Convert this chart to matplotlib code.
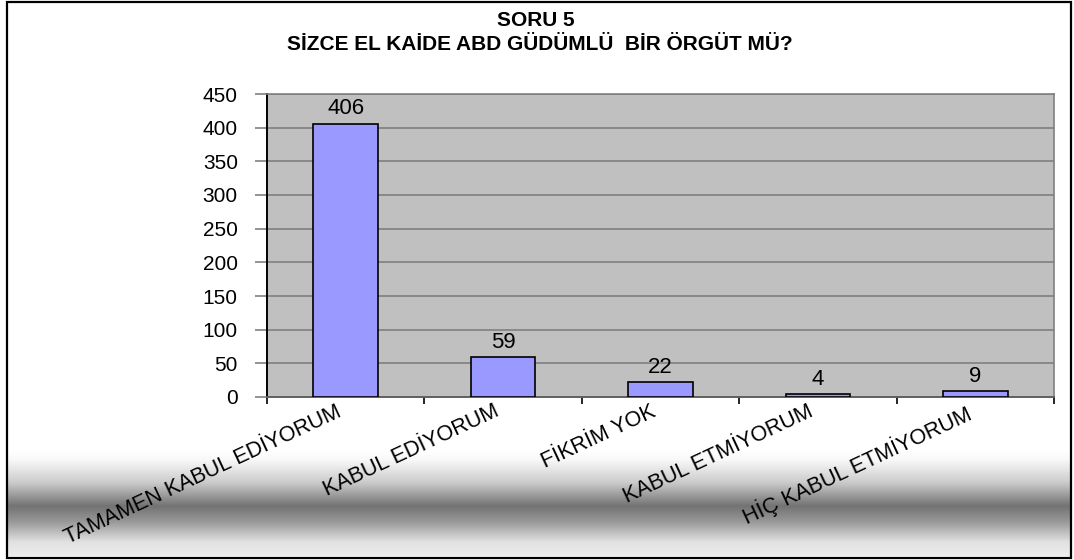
import numpy as np
import matplotlib
matplotlib.use("Agg")
import matplotlib.pyplot as plt
from matplotlib.patches import Rectangle
from matplotlib.transforms import ScaledTranslation

# survey answers and counts
categories = [
    "TAMAMEN KABUL EDİYORUM",
    "KABUL EDİYORUM",
    "FİKRİM YOK",
    "KABUL ETMİYORUM",
    "HİÇ KABUL ETMİYORUM",
]
counts = [406, 59, 22, 4, 9]
y_ticks = [0, 50, 100, 150, 200, 250, 300, 350, 400, 450]

title_1 = "SORU 5"
title_2 = "SİZCE EL KAİDE ABD GÜDÜMLÜ  BİR ÖRGÜT MÜ?"

plt.rcParams["font.family"] = ["Liberation Sans", "DejaVu Sans"]

W, H = 1074, 560
fig = plt.figure(figsize=(W / 100, H / 100), dpi=100)
fig.patch.set_facecolor("white")

# grey band behind the category labels
bg = fig.add_axes([8 / W, 1 - 556 / H, 1062 / W, 106 / H], zorder=0)
rows = np.linspace(450, 556, 200)
shade = np.interp(rows, [450, 460, 482, 506, 522, 542, 556], [1.0, 0.97, 0.8, 0.45, 0.6, 0.88, 0.93])
bg.imshow(shade[:, None], aspect="auto", cmap="gray", vmin=0, vmax=1,
          extent=[0, 1, 0, 1], origin="upper")
bg.set_axis_off()

# main plot area
ax = fig.add_axes([267 / W, 1 - 397 / H, (1054 - 267) / W, (397 - 94) / H], zorder=2)
ax.set_facecolor("#C0C0C0")
x = np.arange(len(categories))
bars = ax.bar(x, counts, width=0.41, color="#9999FF", edgecolor="black", linewidth=1.2, zorder=3)
ax.bar_label(bars, labels=[str(c) for c in counts], padding=3, fontsize=16)

ax.set_xlim(-0.5, len(categories) - 0.5)
ax.set_ylim(0, 450)
ax.set_yticks(y_ticks)
ax.set_yticklabels([str(v) for v in y_ticks], fontsize=15)
ax.yaxis.grid(True, color="#808080", linewidth=1.2, zorder=1)
ax.set_axisbelow(True)
ax.tick_params(axis="y", length=9, width=1.2, color="#808080", pad=12)

# ticks between categories, labels at the centres
ax.set_xticks(np.arange(len(categories) + 1) - 0.5)
ax.set_xticklabels([])
ax.tick_params(axis="x", which="major", length=5, width=1.2, color="black")
ax.set_xticks(x, minor=True)
ax.set_xticklabels(categories, minor=True, fontsize=15.5, rotation=25,
                   ha="right", va="top", rotation_mode="anchor")
ax.tick_params(axis="x", which="minor", length=0, pad=3)
shift = ScaledTranslation(-0.1, 0, fig.dpi_scale_trans)
for lbl in ax.get_xticklabels(minor=True):
    lbl.set_transform(lbl.get_transform() + shift)

ax.spines["left"].set_color("black")
ax.spines["left"].set_linewidth(1.4)
ax.spines["bottom"].set_color("#606060")
ax.spines["bottom"].set_linewidth(1.4)
for side in ["top", "right"]:
    ax.spines[side].set_color("#808080")
    ax.spines[side].set_linewidth(1.2)

fig.text(536 / W, 1 - 21 / H, title_1, ha="center", va="center", fontsize=15, fontweight="bold")
fig.text(540 / W, 1 - 45 / H, title_2, ha="center", va="center", fontsize=15, fontweight="bold")

# outer frame of the chart
fig.patches.append(Rectangle((7 / W, 2 / H), 1064 / W, 556 / H, transform=fig.transFigure,
                             fill=False, edgecolor="black", linewidth=1.6, zorder=5))

fig.savefig("out.png", dpi=100)
